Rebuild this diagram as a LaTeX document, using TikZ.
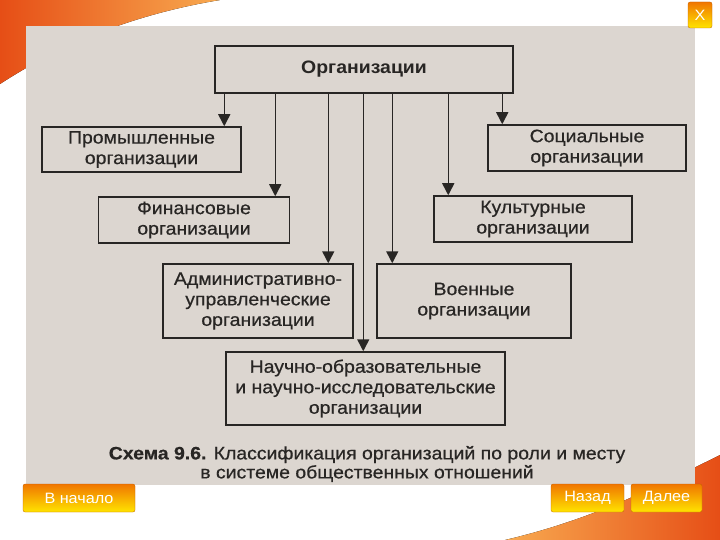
\documentclass[tikz,border=0pt]{standalone}
\usepackage{fontspec}
\setmainfont{Liberation Sans}[FakeStretch=1.08]
\newfontfamily\scanfont{Liberation Sans}[FakeStretch=1.08, FakeBold=0.6]
\usetikzlibrary{arrows.meta}

\definecolor{ink}{RGB}{40,38,36}
\definecolor{paper}{RGB}{220,214,208}
\definecolor{swred}{RGB}{230,78,22}
\definecolor{swlight}{RGB}{248,170,80}
\definecolor{btntop}{RGB}{240,118,0}
\definecolor{btnbot}{RGB}{255,228,0}

\tikzset{
    box/.style={draw=ink, line width=1.5pt, align=center, inner sep=0pt, text=ink,
        font=\fontsize{18}{20.5}\scanfont},
    link/.style={-{Triangle[length=12pt,width=12pt]}, draw=ink, line width=1.5pt},
    btn/.style={rounded corners=2pt, top color=btntop, bottom color=btnbot, draw=btntop!80!black,
        line width=0.3pt, text=white, inner sep=0pt, minimum height=28pt,
        font=\fontsize{15}{15}\selectfont}
}

\begin{document}
\begin{tikzpicture}[x=1pt, y=-1pt]
    \useasboundingbox (0,0) rectangle (720,540);
    \fill[white] (0,0) rectangle (720,540);

    % Corner swooshes
    \fill[left color=swred, right color=swlight]
        (0,0) -- (220,0) .. controls (130,15) and (60,45) .. (0,84) -- cycle;
    \fill[left color=swlight, right color=swred]
        (720,455) .. controls (650,490) and (590,520) .. (505,540) -- (720,540) -- cycle;

    % Scanned page
    \fill[paper] (26,26) rectangle (695,485);

    % Boxes
    \node[box, minimum width=298pt, minimum height=47pt, font=\fontsize{18}{20}\selectfont\bfseries]
        (org) at (364,69.5) {Организации};
    \node[box, minimum width=199pt, minimum height=45pt] (prom) at (141.5,149.5) {Промышленные\\организации};
    \node[box, minimum width=198pt, minimum height=46pt] (soc) at (587,148) {Социальные\\организации};
    \node[box, minimum width=191pt, minimum height=46pt] (fin) at (194,220) {Финансовые\\организации};
    \node[box, minimum width=198pt, minimum height=46pt] (kult) at (533,219) {Культурные\\организации};
    \node[box, minimum width=190pt, minimum height=74pt] (adm) at (258,301) {Административно-\\управленческие\\организации};
    \node[box, minimum width=194pt, minimum height=74pt] (voen) at (474,301) {Военные\\организации};
    \node[box, minimum width=279pt, minimum height=73pt] (nauch) at (365.5,388.5)
        {Научно-образовательные\\и научно-исследовательские\\организации};

    % Arrows from the top box
    \foreach \dx/\dst in {10/prom, 61/fin, 114/adm, 149/nauch, 178/voen, 234/kult, 288/soc}
        \draw[link] (org.south west) ++(\dx,0) coordinate (s) -- (s |- \dst.north);

    % Caption
    \node[align=center, inner sep=0pt, text=ink, font=\fontsize{18}{19}\scanfont]
        (cap) at (367,464) {\textbf{Схема 9.6.} Классификация организаций по роли и месту\\в системе общественных отношений};

    % Navigation buttons
    \node[btn, minimum width=112pt] (home) at (79,498) {В начало};
    \node[btn, minimum width=73pt] (back) at (587.5,498) {Назад};
    \node[btn, minimum width=71pt] (next) at (666.5,498) {Далее};
    \node[btn, minimum width=24pt, minimum height=26pt] (close) at (700,15) {X};
\end{tikzpicture}
\end{document}
